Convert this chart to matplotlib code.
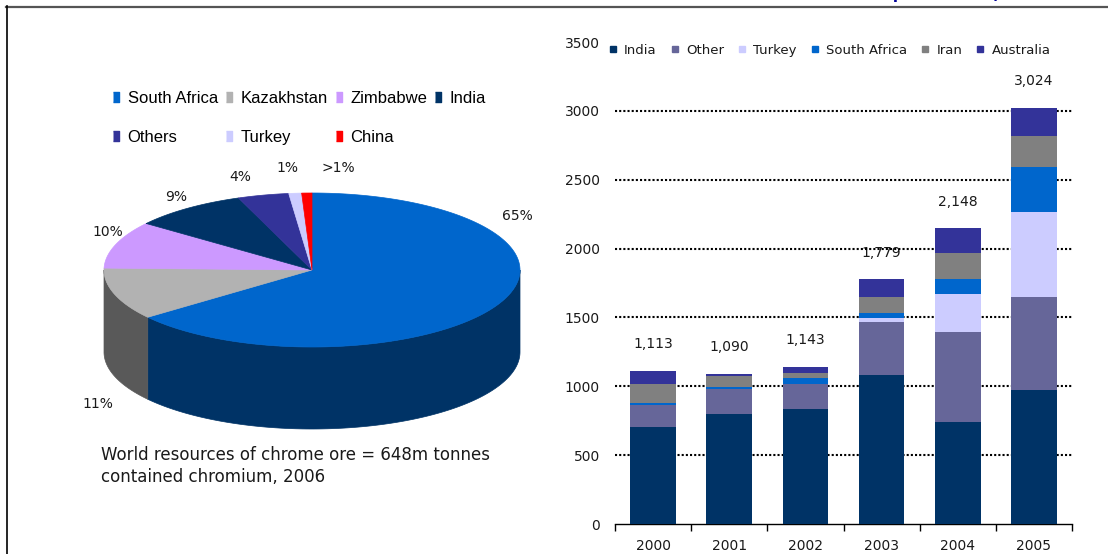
import matplotlib
matplotlib.use('Agg')
import matplotlib.pyplot as plt
from matplotlib.patches import Polygon
from matplotlib.lines import Line2D
import matplotlib.colors as mcolors
import numpy as np

# World chrome ore resources, 2006 (% share)
pie_labels = ['South Africa', 'Kazakhstan', 'Zimbabwe', 'India', 'Others', 'Turkey', 'China']
pie_values = [65, 11, 10, 9, 4, 1, 0.8]
pie_pct_text = ['65%', '11%', '10%', '9%', '4%', '1%', '>1%']
pie_colors = ['#0066CC', '#B2B2B2', '#CC99FF', '#003366', '#333399', '#CCCCFF', '#FF0000']

# Chrome ore production by country ('000 t)
years = ['2000', '2001', '2002', '2003', '2004', '2005']
producers = ['India', 'Other', 'Turkey', 'South Africa', 'Iran', 'Australia']
india = [704, 800, 835, 1082, 741, 973]
other = [160, 180, 182, 385, 653, 675]
turkey = [0, 0, 0, 29, 276, 618]
south_africa = [15, 15, 43, 36, 109, 327]
iran = [138, 80, 37, 116, 189, 225]
australia = [96, 15, 46, 131, 180, 206]
bar_colors = ['#003366', '#666699', '#CCCCFF', '#0066CC', '#808080', '#333399']

TEXT = '#1a1a1a'
plt.rcParams['font.family'] = 'DejaVu Sans'

fig = plt.figure(figsize=(11.08, 5.54), dpi=100, facecolor='white')

# frame lines
fig.add_artist(Line2D([6 / 1108, 1], [1 - 6.5 / 554] * 2, color='#555555', lw=1.6))
fig.add_artist(Line2D([6.5 / 1108] * 2, [0, 1 - 6 / 554], color='black', lw=1.2))
fig.text(788 / 1108, 1 + 1.5 / 554, 'Chrome ore production (thousand tonnes)',
         color='#000099', fontsize=11, fontweight='bold', ha='left', va='baseline')

# ---- 3D pie, drawn in pixel units ----
ax_pie = fig.add_axes([0, 0, 0.5, 1])
ax_pie.set_xlim(0, 554)
ax_pie.set_ylim(554, 0)
ax_pie.axis('off')

cx, cy, rx, ry, depth = 312, 270, 208, 77, 82
fracs = np.array(pie_values) / sum(pie_values)
bounds = 90 - 360 * np.concatenate([[0], np.cumsum(fracs)])


def rim(t0, t1, n=150):
    t = np.radians(np.linspace(t0, t1, n))
    return cx + rx * np.cos(t), cy - ry * np.sin(t)


# side walls for the front half (-180..0 deg)
for i, col in enumerate(pie_colors):
    hi, lo = bounds[i], bounds[i + 1]
    hi, lo = min(hi, 0), max(lo, -180)
    if hi <= lo:
        continue
    xs, ys = rim(hi, lo)
    pts = np.column_stack([np.r_[xs, xs[::-1]], np.r_[ys, ys[::-1] + depth]])
    dark = np.array(mcolors.to_rgb(col)) * 0.5
    ax_pie.add_patch(Polygon(pts, closed=True, facecolor=dark, edgecolor=dark, lw=0.5))

# top faces
for i, col in enumerate(pie_colors):
    xs, ys = rim(bounds[i], bounds[i + 1])
    pts = np.column_stack([np.r_[cx, xs], np.r_[cy, ys]])
    ax_pie.add_patch(Polygon(pts, closed=True, facecolor=col, edgecolor=col, lw=0.5))

pct_pos = [(517, 216), (98, 404), (108, 232), (176, 197), (240, 177), (287, 168), (338, 168)]
for txt, (px, py) in zip(pie_pct_text, pct_pos):
    ax_pie.text(px, py, txt, fontsize=10, color=TEXT, ha='center', va='center')

rect_marker = [(-0.3, -0.5), (0.3, -0.5), (0.3, 0.5), (-0.3, 0.5)]
pie_handles = [Line2D([], [], marker=rect_marker, ls='', color=c, markersize=7.5)
               for c in pie_colors]
order = [0, 4, 1, 5, 2, 6, 3]
ax_pie.legend([pie_handles[k] for k in order], [pie_labels[k] for k in order],
              ncol=4, loc='upper left', bbox_to_anchor=(111 / 554, 1 - 91 / 554),
              frameon=False, borderpad=0, borderaxespad=0, handlelength=0.6,
              handletextpad=0.4, columnspacing=0.35, labelspacing=1.45,
              prop={'family': 'Liberation Sans', 'size': 12})

ax_pie.text(101, 466, 'World resources of chrome ore = 648m tonnes\ncontained chromium, 2006',
            fontsize=12, color=TEXT, ha='left', va='center', linespacing=1.25)

# ---- stacked bars ----
ax = fig.add_axes([615 / 1108, 30 / 554, 457 / 1108, 482 / 554])
x = np.arange(len(years))
series = [india, other, turkey, south_africa, iran, australia]
bottom = np.zeros(len(years))
for name, vals, col in zip(producers, series, bar_colors):
    ax.bar(x, vals, 0.6, bottom=bottom, color=col, label=name, lw=0, zorder=3)
    bottom += np.array(vals)

yticks = np.arange(0, 3501, 500)
for v in yticks[1:-1]:
    ax.axhline(v, color='black', lw=1.5, ls=(0, (1, 1)), zorder=1)

for xi, tot in zip(x, bottom):
    ax.annotate(f'{tot:,.0f}', (xi, tot), xytext=(0, 14), textcoords='offset points',
                ha='center', va='bottom', fontsize=10, color=TEXT, zorder=0.5)

ax.set_xlim(-0.5, 5.5)
ax.set_ylim(0, 3500)
ax.set_yticks(yticks)
ax.set_xticks(x)
ax.set_xticklabels(years)
ax.set_xticks(np.arange(-0.5, 6, 1), minor=True)
ax.tick_params(axis='y', length=0, pad=11, labelsize=10, labelcolor=TEXT)
ax.tick_params(axis='x', which='major', length=0, pad=11, labelsize=10, labelcolor=TEXT)
ax.tick_params(axis='x', which='minor', length=5, width=1, color='black', direction='out')
for s in ['left', 'right', 'top']:
    ax.spines[s].set_visible(False)
ax.spines['bottom'].set_linewidth(1)

bar_handles = [Line2D([], [], marker='s', ls='', color=c, markersize=4.2) for c in bar_colors]
ax.legend(bar_handles, producers, ncol=6, loc='center left', bbox_to_anchor=(-0.012, 0.983),
          frameon=False, fontsize=9.5, borderpad=0, borderaxespad=0, handlelength=0.5,
          handletextpad=0.6, columnspacing=1.12, labelcolor=TEXT)

fig.savefig('out.png', dpi=100, facecolor='white')
